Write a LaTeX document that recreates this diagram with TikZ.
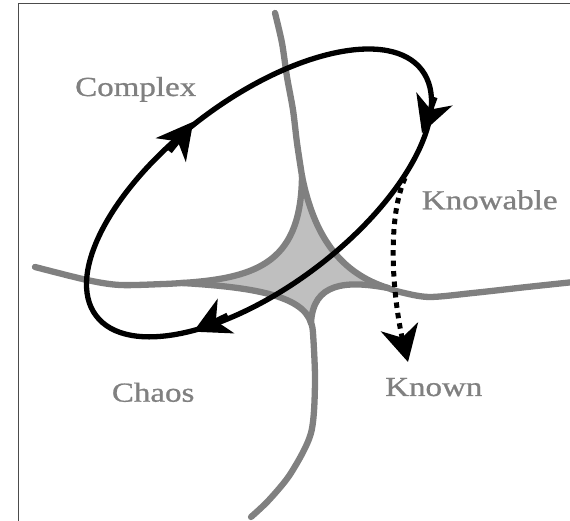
\documentclass[tikz,border=0pt]{standalone}
\usepackage{fontspec}
\setmainfont{Liberation Serif}
\usetikzlibrary{arrows.meta,bending}
\begin{document}
\begin{tikzpicture}[x=1pt,y=1pt,
  region/.style={draw=gray, line width=6.3pt, line cap=round, line join=round},
  cycleline/.style={draw=black, line width=5.3pt},
  bigtip/.style={-{Stealth[length=36pt,width=38pt,inset=11pt]}},
  dlabel/.style={anchor=base west, inner sep=0pt, text=gray, font=\fontsize{27.5}{30}\selectfont\addfontfeature{FakeBold=0.8}},
  frameline/.style={draw=black!70, line width=1.5pt}]
\useasboundingbox (0,0) rectangle (570,521);
% frame
\coordinate (fb) at (18.3,0);
\coordinate (fc) at (18.3,517.7);
\coordinate (fr) at (570,517.7);
\draw[frameline] (fb) -- (fc) -- (fr);
% star cusps
\coordinate (T) at (302,345);
\coordinate (L) at (182,238);
\coordinate (B) at (311,198);
\coordinate (R) at (388,233);
% shaded centre
\fill[black!25] (T) .. controls (301,262) and (262,243) .. (L)
  .. controls (250,234) and (303,226) .. (B)
  .. controls (313,238) and (345,241) .. (R)
  .. controls (340,248) and (314,285) .. (T) -- cycle;
% boundaries
\draw[region] (T) .. controls (301,262) and (262,243) .. (L);
\draw[region] (L) .. controls (250,234) and (303,226) .. (B);
\draw[region] (B) .. controls (313,238) and (345,241) .. (R);
\draw[region] (R) .. controls (340,248) and (314,285) .. (T);
\draw[region] plot[smooth] coordinates {(275,508) (282,478) (287,444) (293,411) (297,378) (302,345)};
\draw[region] plot[smooth] coordinates {(35,254) (87,241) (120,236) (164,237) (182,238)};
\draw[region] plot[smooth] coordinates {(388,233) (400,229) (429,224) (473,228) (527,234) (574,239)};
\draw[region] plot[smooth] coordinates {(311,198) (313,188) (315,138) (311,88) (291,48) (269,21) (251,4)};
% cycle
\coordinate (ec) at (259,328);
\draw[cycleline, rotate around={37:(ec)}] (ec) ellipse (204 and 94);
\coordinate (a1) at (193.3,399.3);
\coordinate (a2) at (422,388);
\coordinate (a3) at (193.3,189.3);
\draw[cycleline, bigtip] ([shift={(231.6:38pt)}]a1) -- (a1);
\draw[cycleline, bigtip] ([shift={(70:38pt)}]a2) -- (a2);
\draw[cycleline, bigtip] ([shift={(25.6:38pt)}]a3) -- (a3);
% dotted arrow
\coordinate (ds) at (405,343);
\coordinate (dt) at (408,159);
\draw[line width=5pt, dash pattern=on 5.5pt off 5pt, bigtip] (ds) .. controls (386,300) and (392,215) .. (dt);
% labels
\node[dlabel] (complex) at (75,425) {\scalebox{1.2}[1]{Complex}};
\node[dlabel] (knowable) at (421.7,311.7) {\scalebox{1.2}[1]{Knowable}};
\node[dlabel] (chaos) at (111.7,119.3) {\scalebox{1.2}[1]{Chaos}};
\node[dlabel] (known) at (385,125) {\scalebox{1.2}[1]{Known}};
\end{tikzpicture}
\end{document}
